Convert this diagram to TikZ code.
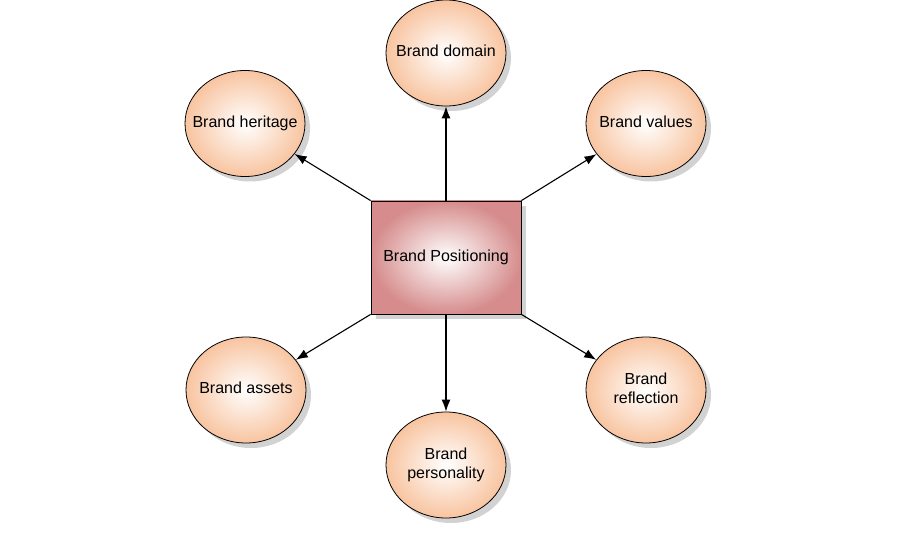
\documentclass[tikz,border=0pt]{standalone}
\usepackage{fontspec}
\setmainfont{Liberation Sans}
\usetikzlibrary{shapes.geometric,arrows.meta,shadows}
\definecolor{boxouter}{RGB}{214,140,140}
\definecolor{ellouter}{RGB}{248,196,160}
\definecolor{shadowgray}{RGB}{210,210,210}
\newcommand{\elltext}[1]{\makebox[0pt]{\begin{tabular}{@{}c@{}}#1\end{tabular}}}
\tikzset{
  shad/.style={drop shadow={shadow xshift=5pt,shadow yshift=-5pt,fill=shadowgray,opacity=1}},
  brandell/.style={ellipse,draw=black,line width=0.8pt,minimum width=120pt,minimum height=106pt,inner sep=0pt,
    inner color=white,outer color=ellouter,shad,font=\fontsize{16}{19}\selectfont},
  centerbox/.style={rectangle,draw=black,line width=0.8pt,minimum width=150pt,minimum height=113pt,inner sep=0pt,
    inner color=white,outer color=boxouter,shad,font=\fontsize{16}{19}\selectfont},
  conn/.style={draw=black,line width=1.1pt,-{Latex[length=12pt,width=9pt]}}
}
\begin{document}
\begin{tikzpicture}[x=1pt,y=-1pt]
\useasboundingbox[fill=white] (0,0) rectangle (900,540);
\node[centerbox] (pos) at (446,257.5) {Brand Positioning};
\node[brandell] (domain) at (446,53) {\elltext{Brand domain}};
\node[brandell] (heritage) at (245,123.5) {\elltext{Brand heritage}};
\node[brandell] (values) at (646,123.5) {\elltext{Brand values}};
\node[brandell] (assets) at (246,390) {\elltext{Brand assets}};
\node[brandell] (reflection) at (646,390) {\elltext{Brand\\reflection}};
\node[brandell] (personality) at (446,465) {\elltext{Brand\\personality}};
\draw[conn] (pos.north) -- (domain);
\draw[conn] (pos.north west) -- (heritage);
\draw[conn] (pos.north east) -- (values);
\draw[conn] (pos.south west) -- (assets);
\draw[conn] (pos.south east) -- (reflection);
\draw[conn] (pos.south) -- (personality);
\end{tikzpicture}
\end{document}
